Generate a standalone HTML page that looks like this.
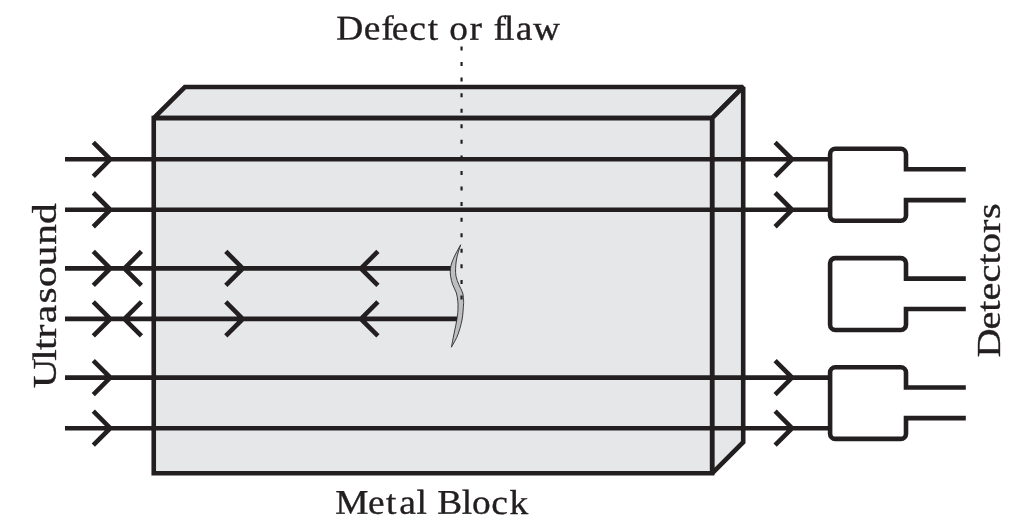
<!DOCTYPE html>
<html lang="en">
<head>
<meta charset="utf-8">
<title>Ultrasound flaw detection in a metal block</title>
<style>
html,body{margin:0;padding:0;background:#ffffff;}
body{width:1024px;height:528px;overflow:hidden;}
svg{display:block;will-change:transform;}
</style>
</head>
<body>
<svg width="1024" height="528" viewBox="0 0 1024 528">
<rect width="1024" height="528" fill="#ffffff"/>
<path d="M153.75,118.10 L184.85,87.00 H743.20 L712.10,118.10 Z" fill="#e6e7e8" stroke="#231f20" stroke-width="4.60" stroke-linejoin="miter" stroke-miterlimit="2"/>
<path d="M712.10,118.10 L743.20,87.00 V442.20 L712.10,473.30 Z" fill="#e6e7e8" stroke="#231f20" stroke-width="4.60" stroke-linejoin="miter" stroke-miterlimit="2"/>
<path d="M153.75,118.10 H712.10 V473.30 H153.75 Z" fill="#e6e7e8" stroke="#231f20" stroke-width="4.60" stroke-linejoin="miter" stroke-miterlimit="2"/>
<path d="M65,159.30 H830.2 M93.30,142.30 L110.30,159.30 L93.30,176.30 M775.10,142.30 L792.10,159.30 L775.10,176.30 M65,209.75 H830.2 M93.30,192.75 L110.30,209.75 L93.30,226.75 M775.10,192.75 L792.10,209.75 L775.10,226.75 M65,268.40 H451.50 M93.30,251.40 L110.30,268.40 L93.30,285.40 M141.40,251.40 L124.40,268.40 L141.40,285.40 M225.80,251.40 L242.80,268.40 L225.80,285.40 M377.90,251.40 L360.90,268.40 L377.90,285.40 M65,318.90 H457.00 M93.30,301.90 L110.30,318.90 L93.30,335.90 M141.40,301.90 L124.40,318.90 L141.40,335.90 M225.80,301.90 L242.80,318.90 L225.80,335.90 M377.90,301.90 L360.90,318.90 L377.90,335.90 M65,377.60 H830.2 M93.30,360.60 L110.30,377.60 L93.30,394.60 M775.10,360.60 L792.10,377.60 L775.10,394.60 M65,428.20 H830.2 M93.30,411.20 L110.30,428.20 L93.30,445.20 M775.10,411.20 L792.10,428.20 L775.10,445.20" fill="none" stroke="#231f20" stroke-width="4.60" stroke-linejoin="miter" stroke-miterlimit="10"/>
<path d="M460.70,244.80 C459.85,246.33 457.03,251.13 455.60,254.00 C454.17,256.87 452.97,259.58 452.10,262.00 C451.23,264.42 450.65,266.12 450.40,268.50 C450.15,270.88 450.22,273.60 450.60,276.30 C450.98,279.00 451.73,281.92 452.70,284.70 C453.67,287.48 455.55,290.23 456.40,293.00 C457.25,295.77 457.53,298.97 457.80,301.30 C458.07,303.63 458.00,305.13 458.00,307.00 C458.00,308.87 458.02,310.23 457.80,312.50 C457.58,314.77 457.20,317.68 456.70,320.60 C456.20,323.52 455.42,326.98 454.80,330.00 C454.18,333.02 453.57,335.88 453.00,338.75 C452.43,341.62 451.67,345.79 451.40,347.20 C452.28,345.58 455.30,340.57 456.70,337.50 C458.10,334.43 458.92,331.67 459.80,328.75 C460.68,325.83 461.47,322.79 462.00,320.00 C462.53,317.21 462.75,314.50 463.00,312.00 C463.25,309.50 463.40,306.78 463.50,305.00 C463.60,303.22 463.73,303.30 463.60,301.30 C463.47,299.30 463.48,295.77 462.70,293.00 C461.92,290.23 460.02,287.48 458.90,284.70 C457.78,281.92 456.55,279.00 456.00,276.30 C455.45,273.60 455.53,271.22 455.60,268.50 C455.67,265.78 455.95,262.75 456.40,260.00 C456.85,257.25 457.58,254.53 458.30,252.00 C459.02,249.47 460.30,246.00 460.70,244.80 Z" fill="#bcbec0" stroke="#231f20" stroke-width="0.85" stroke-linejoin="round"/>
<path d="M461.55,46.5 V299.6" fill="none" stroke="#231f20" stroke-width="2.2" stroke-dasharray="4 11.56"/>
<path d="M965.80,169.30 H906.00 V154.00 A5.20,5.20 0 0 0 900.80,148.80 H835.30 A5.20,5.20 0 0 0 830.10,154.00 V215.50 A5.20,5.20 0 0 0 835.30,220.70 H900.80 A5.20,5.20 0 0 0 906.00,215.50 V200.10 H965.80 M965.80,278.65 H906.00 V263.30 A5.20,5.20 0 0 0 900.80,258.10 H835.30 A5.20,5.20 0 0 0 830.10,263.30 V324.80 A5.20,5.20 0 0 0 835.30,330.00 H900.80 A5.20,5.20 0 0 0 906.00,324.80 V308.95 H965.80 M965.80,387.50 H906.00 V372.50 A5.20,5.20 0 0 0 900.80,367.30 H835.30 A5.20,5.20 0 0 0 830.10,372.50 V433.70 A5.20,5.20 0 0 0 835.30,438.90 H900.80 A5.20,5.20 0 0 0 906.00,433.70 V418.10 H965.80" fill="#ffffff" stroke="#231f20" stroke-width="4.60" stroke-linejoin="miter"/>
<text transform="translate(336.00,39.60) rotate(0.03) scale(1.0800,1)" x="0.19 25.65 41.95 51.58 67.87 84.96 94.57 104.82 123.54 135.07 145.82 155.56 166.44 182.32" font-family='"Liberation Serif", serif' font-size="34.60" fill="#231f20" stroke="#231f20" stroke-width="0.35" stroke-linejoin="round">Defect or flaw</text>
<text transform="translate(336.00,513.80) rotate(0.03) scale(1.0800,1)" x="-0.70 29.54 46.35 58.62 74.54 84.16 93.74 116.51 126.03 143.71 160.66" font-family='"Liberation Serif", serif' font-size="34.60" fill="#231f20" stroke="#231f20" stroke-width="0.35" stroke-linejoin="round">Metal Block</text>
<text transform="translate(56.20,388.30) rotate(-90) scale(1.1993,1)" dx="0.00 -2.00 -0.60 0.00 1.10 1.10 0.40 0.00 0.50 0.00" font-family='"Liberation Serif", serif' font-size="34.60" fill="#231f20" stroke="#231f20" stroke-width="0.35" stroke-linejoin="round">Ultrasound</text>
<text transform="translate(1000.40,357.40) rotate(-90) scale(1.1692,1)" dx="0.00 -1.20 0.00 0.00 0.00 0.00 0.00 0.00 0.50" font-family='"Liberation Serif", serif' font-size="34.60" fill="#231f20" stroke="#231f20" stroke-width="0.35" stroke-linejoin="round">Detectors</text>
</svg>
</body>
</html>
